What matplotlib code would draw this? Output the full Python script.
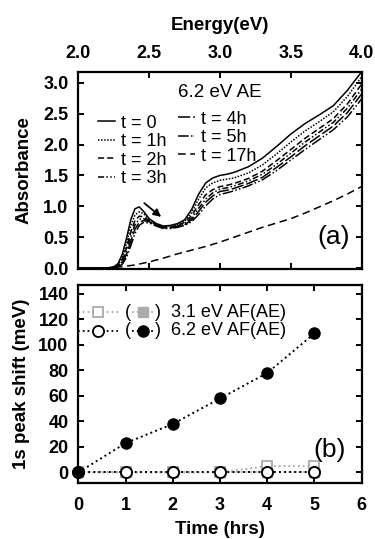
import matplotlib
matplotlib.use("Agg")
import matplotlib.pyplot as plt
from matplotlib.lines import Line2D

plt.rcParams['font.family'] = ['Liberation Sans', 'DejaVu Sans']

# ---------------- data: panel (a) ----------------
energy = [2.00, 2.20, 2.25, 2.28, 2.31, 2.34, 2.37, 2.40, 2.43, 2.46, 2.50, 2.55, 2.60, 2.65, 2.70,
          2.75, 2.80, 2.85, 2.90, 2.95, 3.00, 3.05, 3.10, 3.20, 3.30, 3.40, 3.50, 3.60, 3.70, 3.80,
          3.90, 4.00]
abs_t0 = [0.00, 0.00, 0.02, 0.07, 0.22, 0.48, 0.78, 0.96, 0.99, 0.92, 0.80, 0.72, 0.68, 0.69, 0.72,
          0.78, 0.95, 1.20, 1.38, 1.46, 1.50, 1.52, 1.55, 1.64, 1.78, 1.97, 2.17, 2.34, 2.48, 2.63,
          2.88, 3.18]
abs_t1 = [0.00, 0.00, 0.01, 0.05, 0.17, 0.40, 0.68, 0.86, 0.91, 0.88, 0.79, 0.72, 0.68, 0.68, 0.71,
          0.76, 0.90, 1.12, 1.30, 1.38, 1.42, 1.44, 1.46, 1.54, 1.67, 1.85, 2.04, 2.22, 2.37, 2.53,
          2.78, 3.10]
abs_t2 = [0.00, 0.00, 0.01, 0.04, 0.13, 0.33, 0.58, 0.77, 0.84, 0.83, 0.77, 0.70, 0.66, 0.66, 0.69,
          0.74, 0.85, 1.03, 1.19, 1.27, 1.32, 1.34, 1.37, 1.45, 1.57, 1.74, 1.92, 2.10, 2.26, 2.42,
          2.66, 2.98]
abs_t3 = [0.00, 0.00, 0.01, 0.03, 0.10, 0.27, 0.50, 0.70, 0.79, 0.80, 0.76, 0.70, 0.66, 0.66, 0.68,
          0.72, 0.81, 0.97, 1.12, 1.22, 1.28, 1.30, 1.33, 1.41, 1.52, 1.68, 1.86, 2.04, 2.20, 2.36,
          2.59, 2.90]
abs_t4 = [0.00, 0.00, 0.00, 0.02, 0.08, 0.22, 0.43, 0.63, 0.74, 0.77, 0.75, 0.69, 0.65, 0.65, 0.67,
          0.70, 0.78, 0.92, 1.07, 1.17, 1.24, 1.26, 1.29, 1.37, 1.47, 1.63, 1.80, 1.98, 2.14, 2.30,
          2.52, 2.82]
abs_t5 = [0.00, 0.00, 0.00, 0.02, 0.06, 0.17, 0.36, 0.56, 0.69, 0.74, 0.73, 0.68, 0.64, 0.64, 0.66,
          0.69, 0.75, 0.87, 1.01, 1.12, 1.19, 1.22, 1.25, 1.33, 1.43, 1.58, 1.75, 1.92, 2.08, 2.24,
          2.45, 2.74]
energy_17 = [2.00, 2.20, 2.30, 2.40, 2.50, 2.60, 2.70, 2.80, 2.90, 3.00, 3.10, 3.20, 3.30, 3.40,
             3.50, 3.60, 3.70, 3.80, 3.90, 4.00]
abs_t17 = [0.00, 0.00, 0.02, 0.05, 0.10, 0.16, 0.23, 0.29, 0.35, 0.42, 0.50, 0.58, 0.66, 0.73,
           0.80, 0.89, 0.99, 1.09, 1.20, 1.32]
curve_labels = ['t = 0', 't = 1h', 't = 2h', 't = 3h', 't = 4h', 't = 5h', 't = 17h']

# ---------------- data: panel (b) ----------------
time_hrs = [0, 1, 2, 3, 4, 5]
shift_31_af = [0, 0, 0, 0, 5, 5]
shift_31_ae = [0, 0, 0, 0, 0, 0]
shift_62_af = [0, 0, 0, 0, 0, 0]
shift_62_ae = [0, 23, 38, 58, 78, 109]
legend_b = ['3.1 eV AF(AE)', '6.2 eV AF(AE)']

gray = '#aaaaaa'
TICK_FS = 13
LAB_FS = 13.5
TXT_FS = 13

fig = plt.figure(figsize=(3.75, 5.39), dpi=100)
ax1 = fig.add_axes([0.2088, 0.5004, 0.7557, 0.3666])
ax2 = fig.add_axes([0.2088, 0.1033, 0.7557, 0.3680])

for ax in (ax1, ax2):
    for sp in ax.spines.values():
        sp.set_linewidth(1.6)
    ax.tick_params(direction='in', length=4, width=1.4, top=True, right=True, bottom=True,
                   left=True, labelsize=TICK_FS, pad=7)

# ---- panel (a)
styles = ['-', (0, (1, 1)), (0, (4, 2)), (0, (4, 1.5, 1, 1.5, 1, 1.5)), (0, (8, 2)),
          (0, (7, 1.5, 1, 1.5, 1, 1.5)), (0, (5, 3))]
series = [abs_t0, abs_t1, abs_t2, abs_t3, abs_t4, abs_t5]
lines = []
for ys, ls, lab in zip(series, styles[:6], curve_labels[:6]):
    ln, = ax1.plot(energy, ys, color='black', lw=1.1, linestyle=ls, label=lab)
    lines.append(ln)
ln17, = ax1.plot(energy_17, abs_t17, color='black', lw=1.1, linestyle=styles[6], label=curve_labels[6])
lines.append(ln17)

ax1.set_xlim(2.0, 4.0)
ax1.set_ylim(-0.02, 3.18)
ax1.set_xticks([2.0, 2.5, 3.0, 3.5, 4.0])
ax1.set_yticks([0.0, 0.5, 1.0, 1.5, 2.0, 2.5, 3.0])
ax1.set_xticklabels(['2.0', '2.5', '3.0', '3.5', '4.0'], fontweight='bold')
ax1.set_yticklabels(['0.0', '0.5', '1.0', '1.5', '2.0', '2.5', '3.0'], fontweight='bold')
ax1.tick_params(labeltop=True, labelbottom=False)
ax1.xaxis.set_label_position('top')
ax1.set_xlabel('Energy(eV)', fontsize=LAB_FS, fontweight='bold', labelpad=11)
ax1.set_ylabel('Absorbance', fontsize=LAB_FS, fontweight='bold', labelpad=8)

leg_kw = dict(loc='upper left', frameon=False, fontsize=TXT_FS, handlelength=0.95,
              handletextpad=0.3, labelspacing=0.08, borderpad=0, borderaxespad=0)
leg1 = ax1.legend(handles=lines[:4], bbox_to_anchor=(0.07, 0.782), **leg_kw)
ax1.add_artist(leg1)
ax1.legend(handles=lines[4:], bbox_to_anchor=(0.352, 0.802), **leg_kw)

ax1.text(3.0, 2.85, '6.2 eV AE', fontsize=13.5, ha='center', va='center')
ax1.text(3.80, 0.50, '(a)', fontsize=19, ha='center', va='center')
ax1.annotate('', xy=(2.60, 0.80), xytext=(2.45, 1.08),
             arrowprops=dict(arrowstyle='-|>', color='black', lw=1.3, mutation_scale=11))

# ---- panel (b)
ax2.plot(time_hrs, shift_31_ae, linestyle=':', color=gray, lw=1.3, marker='s', ms=7,
         mfc=gray, mec=gray, zorder=2)
ax2.plot(time_hrs, shift_31_af, linestyle=':', color=gray, lw=1.3, marker='s', ms=7,
         mfc='white', mec=gray, mew=1.3, zorder=2)
ax2.plot(time_hrs, shift_62_af, linestyle=':', color='black', lw=1.4, marker='o', ms=8,
         mfc='white', mec='black', mew=1.4, zorder=3, clip_on=False)
ax2.plot(time_hrs, shift_62_ae, linestyle=':', color='black', lw=1.4, marker='o', ms=8,
         mfc='black', mec='black', zorder=4, clip_on=False)

ax2.set_xlim(0, 6)
ax2.set_ylim(-8.5, 147)
ax2.set_xticks([0, 1, 2, 3, 4, 5, 6])
ax2.set_yticks([0, 20, 40, 60, 80, 100, 120, 140])
ax2.set_xticklabels([str(v) for v in [0, 1, 2, 3, 4, 5, 6]], fontweight='bold')
ax2.set_yticklabels([str(v) for v in [0, 20, 40, 60, 80, 100, 120, 140]], fontweight='bold')
ax2.tick_params(axis='x', pad=10)
ax2.set_xlabel('Time (hrs)', fontsize=LAB_FS, fontweight='bold', labelpad=5)
ax2.set_ylabel('1s peak shift (meV)', fontsize=LAB_FS, fontweight='bold', labelpad=6)
ax2.text(5.33, 17.6, '(b)', fontsize=19, ha='center', va='center')

# legend of panel (b): open marker, then (filled marker), then label
tr = ax2.transAxes
rows = [(0.862, gray, 's', 7, gray, legend_b[0]), (0.768, 'black', 'o', 8, 'black', legend_b[1])]
for y, col, mk, ms, fill, lab in rows:
    ax2.add_line(Line2D([0.0, 0.14], [y, y], transform=tr, ls=':', color=col, lw=1.3,
                        clip_on=False))
    ax2.add_line(Line2D([0.0706], [y], transform=tr, ls='none', marker=mk, ms=ms, mfc='white',
                        mec=col, mew=1.3, clip_on=False))
    ax2.add_line(Line2D([0.19, 0.27], [y, y], transform=tr, ls=':', color=col, lw=1.3,
                        clip_on=False))
    ax2.add_line(Line2D([0.228], [y], transform=tr, ls='none', marker=mk, ms=ms, mfc=fill,
                        mec=fill, clip_on=False))
    ax2.text(0.176, y, '(', transform=tr, fontsize=TXT_FS, ha='center', va='center')
    ax2.text(0.282, y, ')', transform=tr, fontsize=TXT_FS, ha='center', va='center')
    ax2.text(0.328, y, lab, transform=tr, fontsize=TXT_FS, ha='left', va='center')

fig.savefig('out.png', dpi=100)
